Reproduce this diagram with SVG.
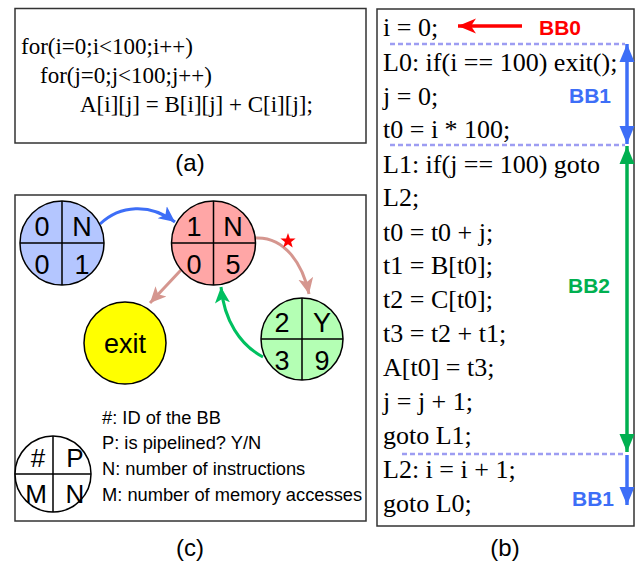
<svg xmlns="http://www.w3.org/2000/svg" width="637" height="561" viewBox="0 0 637 561">
<defs>
<style>
.box{fill:#fff;stroke:#333;stroke-width:1.5}
.code{font-family:"Liberation Serif",serif;fill:#000}
.ca{font-size:23px}
.cb{font-size:26px}
.sans{font-family:"Liberation Sans",sans-serif;fill:#000}
.cap{font-size:24px;text-anchor:middle}
.q{font-size:27px;text-anchor:middle}
.lq{font-size:26px;text-anchor:middle}
.leg{font-size:18.3px}
.bb{font-family:"Liberation Sans",sans-serif;font-weight:bold;font-size:21px}
.circ{stroke:#000;stroke-width:1.5}
.div{stroke:#000;stroke-width:1.5;fill:none}
.dash{stroke:#9d9df2;stroke-width:2.5;stroke-dasharray:5 3;fill:none}
</style>
<marker id="hBlue" markerUnits="userSpaceOnUse" markerWidth="18" markerHeight="18" refX="16" refY="9" orient="auto-start-reverse" viewBox="0 0 18 18"><path d="M0,1.5 L16,9 L0,16.5 L4,9 Z" fill="#3d6ef7"/></marker>
<marker id="hRose" markerUnits="userSpaceOnUse" markerWidth="18" markerHeight="18" refX="16" refY="9" orient="auto" viewBox="0 0 18 18"><path d="M0,1.5 L16,9 L0,16.5 L4,9 Z" fill="#d5968f"/></marker>
<marker id="hGreen" markerUnits="userSpaceOnUse" markerWidth="18" markerHeight="18" refX="16" refY="9" orient="auto-start-reverse" viewBox="0 0 18 18"><path d="M0,1.5 L16,9 L0,16.5 L4,9 Z" fill="#00c060"/></marker>
<marker id="bBlue" markerUnits="userSpaceOnUse" markerWidth="20" markerHeight="20" refX="18" refY="10" orient="auto-start-reverse" viewBox="0 0 20 20"><path d="M0,2.5 L18,10 L0,17.5 Z" fill="#3d6ef7"/></marker>
<marker id="bGreen" markerUnits="userSpaceOnUse" markerWidth="20" markerHeight="20" refX="18" refY="10" orient="auto-start-reverse" viewBox="0 0 20 20"><path d="M0,2.5 L18,10 L0,17.5 Z" fill="#00b050"/></marker>
<marker id="bRed" markerUnits="userSpaceOnUse" markerWidth="20" markerHeight="20" refX="18" refY="10" orient="auto" viewBox="0 0 20 20"><path d="M0,2.5 L18,10 L0,17.5 L5,10 Z" fill="#ff0000"/></marker>
</defs>

<g id="panel-a">
<rect class="box" x="15" y="8.5" width="351" height="134.5"/>
<text class="code ca" x="21" y="54">for(i=0;i&lt;100;i++)</text>
<text class="code ca" x="40" y="83">for(j=0;j&lt;100;j++)</text>
<text class="code ca" x="80" y="112">A[i][j] = B[i][j] + C[i][j];</text>
<text class="sans cap" x="190" y="171">(a)</text>
</g>

<g id="panel-c">
<rect class="box" x="15" y="195" width="351" height="326"/>
<text class="sans cap" x="190" y="556">(c)</text>
</g>

<g id="connectors">
<path d="M100,224 C120,205 150,203 175,222" fill="none" stroke="#3d6ef7" stroke-width="3" marker-end="url(#hBlue)"/>
<path d="M255,238 C285,236 303,265 309,294" fill="none" stroke="#d5968f" stroke-width="3" marker-end="url(#hRose)"/>
<path d="M181,270 L150,303" fill="none" stroke="#d5968f" stroke-width="3" marker-end="url(#hRose)"/>
<path d="M263,357 C240,345 224,320 221,287" fill="none" stroke="#00c060" stroke-width="3" marker-end="url(#hGreen)"/>
<polygon points="288,233 289.9,238.4 295.6,238.5 291.1,242 292.7,247.5 288,244.3 283.3,247.5 284.9,242 280.4,238.5 286.1,238.4" fill="#ff0000"/>
</g>

<g id="bb0">
<circle class="circ" cx="62" cy="243" r="42" fill="#b4c6ff"/>
<path class="div" d="M20,243 H104 M62,201 V285"/>
<text class="sans q" x="42" y="236">0</text>
<text class="sans q" x="82" y="236">N</text>
<text class="sans q" x="42" y="274">0</text>
<text class="sans q" x="82" y="274">1</text>
</g>

<g id="bb1">
<circle class="circ" cx="213.5" cy="243" r="42" fill="#ffa6a6"/>
<path class="div" d="M171.5,243 H255.5 M213.5,201 V285"/>
<text class="sans q" x="194" y="236">1</text>
<text class="sans q" x="233" y="236">N</text>
<text class="sans q" x="194" y="274">0</text>
<text class="sans q" x="233" y="274">5</text>
</g>

<g id="exit">
<circle class="circ" cx="125" cy="343" r="41" fill="#ffff00"/>
<text class="sans q" x="125" y="353">exit</text>
</g>

<g id="bb2">
<circle class="circ" cx="302" cy="339" r="41" fill="#b4ffb4"/>
<path class="div" d="M261,339 H343 M302,298 V380"/>
<text class="sans q" x="282" y="332">2</text>
<text class="sans q" x="322" y="332">Y</text>
<text class="sans q" x="282" y="370">3</text>
<text class="sans q" x="322" y="370">9</text>
</g>

<g id="legend">
<circle class="circ" cx="53" cy="474" r="38" fill="#fff"/>
<path class="div" d="M15,474 H91 M53,436 V512"/>
<text class="sans lq" x="38" y="467">#</text>
<text class="sans lq" x="75" y="467">P</text>
<text class="sans lq" x="36" y="503">M</text>
<text class="sans lq" x="75" y="503">N</text>
<text class="sans leg" x="102" y="424">#: ID of the BB</text>
<text class="sans leg" x="102" y="449">P: is pipelined? Y/N</text>
<text class="sans leg" x="102" y="475">N: number of instructions</text>
<text class="sans leg" x="102" y="501">M: number of memory accesses</text>
</g>

<g id="panel-b">
<rect class="box" x="377" y="9" width="257" height="517"/>
<g class="code cb">
<text x="383" y="36">i = 0;</text>
<text x="383" y="71">L0: if(i == 100) exit();</text>
<text x="383" y="105">j = 0;</text>
<text x="383" y="138">t0 = i * 100;</text>
<text x="383" y="173">L1: if(j == 100) goto</text>
<text x="383" y="206">L2;</text>
<text x="383" y="241">t0 = t0 + j;</text>
<text x="383" y="274">t1 = B[t0];</text>
<text x="383" y="308">t2 = C[t0];</text>
<text x="383" y="342">t3 = t2 + t1;</text>
<text x="383" y="376">A[t0] = t3;</text>
<text x="383" y="410">j = j + 1;</text>
<text x="383" y="444">goto L1;</text>
<text x="383" y="478">L2: i = i + 1;</text>
<text x="383" y="512">goto L0;</text>
</g>
<path class="dash" d="M390,44 H625 M390,145 H625 M402,454 H625"/>
<text class="bb" x="539" y="35" fill="#ff0000">BB0</text>
<text class="bb" x="569" y="103" fill="#3d6ef7">BB1</text>
<text class="bb" x="568" y="293" fill="#00b050">BB2</text>
<text class="bb" x="572" y="506" fill="#3d6ef7">BB1</text>
<text class="sans cap" x="505" y="556">(b)</text>
</g>

<g id="bb-arrows">
<path d="M522,26 H458" fill="none" stroke="#ff0000" stroke-width="3.5" marker-end="url(#bRed)"/>
<path d="M627,44 V144" fill="none" stroke="#3d6ef7" stroke-width="3.5" marker-start="url(#bBlue)" marker-end="url(#bBlue)"/>
<path d="M627,146 V452" fill="none" stroke="#00b050" stroke-width="3.5" marker-start="url(#bGreen)" marker-end="url(#bGreen)"/>
<path d="M627,455 V505" fill="none" stroke="#3d6ef7" stroke-width="3.5" marker-end="url(#bBlue)"/>
</g>
</svg>
